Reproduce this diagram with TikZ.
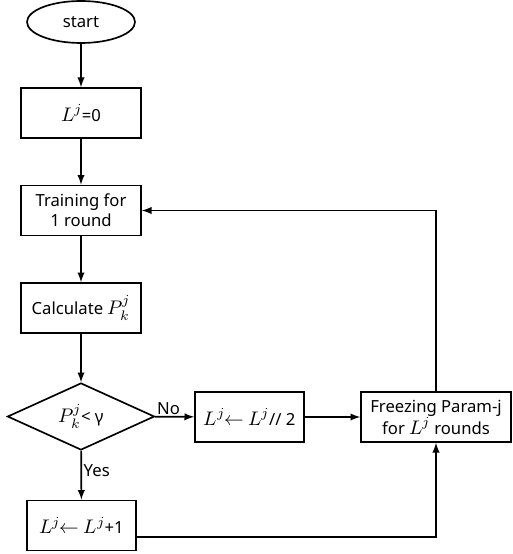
\documentclass[tikz,border=0pt]{standalone}
\usepackage{fontspec}
\usepackage{unicode-math}
\setmainfont{Noto Sans}
\setmathfont{Latin Modern Math}[Scale=1.18]
\usetikzlibrary{shapes.geometric}

\tikzset{
  box/.style={draw, rectangle, minimum width=72pt, minimum height=30pt,
    inner sep=1pt, align=center},
  smallbox/.style={box, minimum width=65.4pt},
  terminal/.style={draw, ellipse, minimum width=64.8pt, minimum height=25.2pt,
    inner sep=0pt},
  decision/.style={draw, diamond, minimum width=88.2pt, minimum height=40.2pt,
    inner sep=0pt, aspect=2.2},
  lbl/.style={font=\normalsize, inner sep=1pt}
}

\begin{document}
\begin{tikzpicture}[>=latex, x=0.6pt, y=-0.6pt, line width=1pt]
  \useasboundingbox (0,0) rectangle (512,554);
  % Main column
  \node[terminal] (start) at (81,22) {start};
  \node[box] (init) at (81,113) {$L^j$=0};
  \node[box] (train) at (81,210.5) {Training for\\1 round};
  \node[box] (calc) at (81,308) {Calculate $P_k^j$};
  \node[decision] (test) at (81,416.5) {$P_k^j$< γ};
  \node[smallbox] (inc) at (81.5,525.5) {$L^j$$\leftarrow$ $L^j$+1};
  % Right branch
  \node[smallbox] (half) at (249.5,417) {$L^j$$\leftarrow$ $L^j$// 2};
  \node[box, minimum width=90pt] (freeze) at (436,417) {Freezing Param-j\\for $L^j$ rounds};
  % Arrows
  \draw[->] (start) -- (init);
  \draw[->] (init) -- (train);
  \draw[->] (train) -- (calc);
  \draw[->] (calc) -- (test);
  \draw[->] (test) -- node[lbl, above, pos=0.35] {No} (half);
  \draw[->] (test) -- node[lbl, right, pos=0.4] {Yes} (inc);
  \draw[->] (half) -- (freeze);
  \draw[->] ([yshift=-7pt]inc.east) -| (freeze.south);
  % Loop back to training
  \draw[->] (freeze.north) |- (train.east);
\end{tikzpicture}
\end{document}
